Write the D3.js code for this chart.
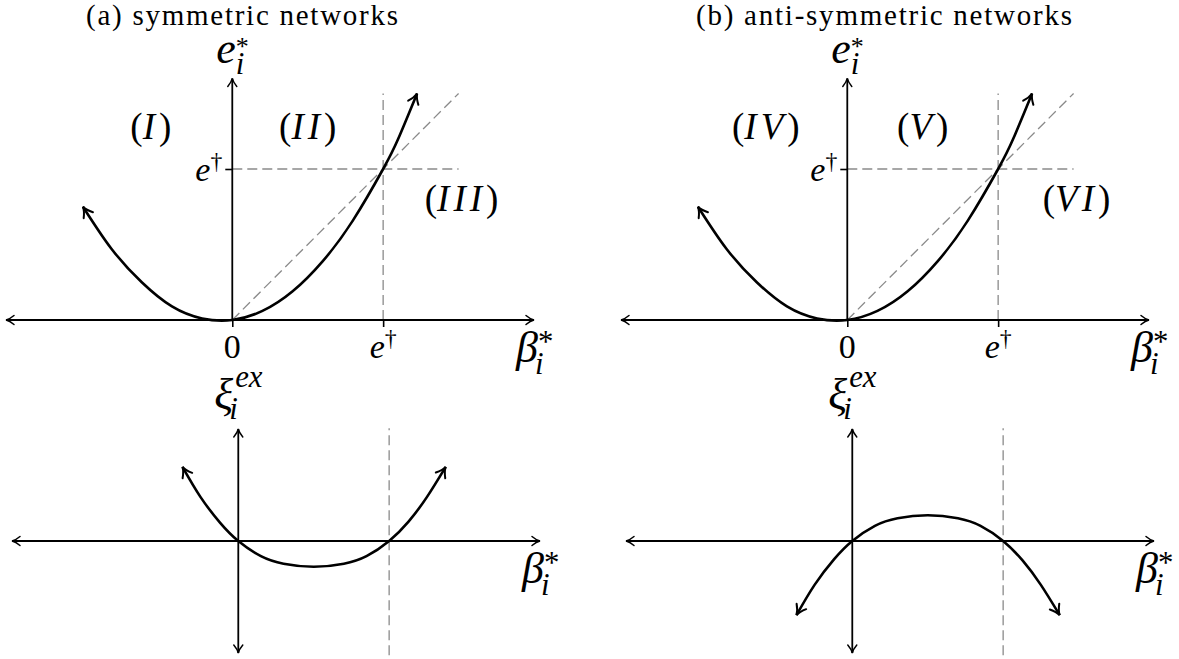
<!DOCTYPE html>
<html><head><meta charset="utf-8">
<script src="https://cdn.jsdelivr.net/npm/d3@7"></script>
<style>
html,body{margin:0;padding:0;background:#fff;}
svg{display:block;}
text{font-family:"Liberation Serif","Times New Roman",serif;fill:#000;}
</style></head><body>
<svg id="fig" width="1179" height="659"></svg>
<script>
// β*_i sample positions (in units of e†) and equilibrium effort e*_i
const betaEq   = [-0.99, -0.8, -0.6, -0.4, -0.2, 0, 0.2, 0.4, 0.6, 0.8, 1.0, 1.1, 1.225];
const effortEq = [0.75, 0.47, 0.25, 0.09, 0.01, 0, 0.06, 0.19, 0.39, 0.66, 1.0, 1.2, 1.5];
// excess term ξ^ex_i for both network types
const betaEx          = [-0.37, -0.25, -0.12, 0, 0.15, 0.3, 0.5, 0.7, 0.85, 1.0, 1.13, 1.25, 1.375];
const xiSymmetric     = [0.49, 0.29, 0.12, 0, -0.1, -0.15, -0.17, -0.15, -0.1, 0, 0.13, 0.29, 0.49];
const xiAntiSymmetric = [-0.49, -0.29, -0.12, 0, 0.1, 0.15, 0.17, 0.15, 0.1, 0, -0.13, -0.29, -0.49];
// threshold e† and reach of the dashed guides
const eDagger = 1;
const guideEnd = 1.5;
// axis extents
const betaRange   = [-1.5, 2.0];
const effortRange = [0, 1.6];
const xiRange     = [-0.74, 0.74];
// texts
const panelTitles = ["(a) symmetric networks", "(b) anti-symmetric networks"];
const regionNames = [["I", "II", "III"], ["IV", "V", "VI"]];
const xTickValues = [0, eDagger];

// ---------- layout ----------
const panels = [
  { title: panelTitles[0], titleX: 86,  titleW: 312, topX: [6, 534],   botX: [12, 540],  xi: xiSymmetric,     regions: regionNames[0] },
  { title: panelTitles[1], titleX: 696, titleW: 376, topX: [621, 1149], botX: [626, 1154], xi: xiAntiSymmetric, regions: regionNames[1] }
];
const topYPx = [320, 78.4];
const botYPx = [653, 429];
const regionSpots = [[-0.54, 1.2], [0.5, 1.2], [1.52, 0.72]];
const xiDashSpan = [-0.755, 0.745];

const svg = d3.select("#fig");
const defs = svg.append("defs");
function addArrow(id, len, half, w) {
  defs.append("marker")
    .attr("id", id).attr("markerUnits", "userSpaceOnUse")
    .attr("viewBox", `${-len - 3} ${-half - 3} ${len + 6} ${2 * half + 6}`)
    .attr("markerWidth", len + 6).attr("markerHeight", 2 * half + 6)
    .attr("refX", 0).attr("refY", 0).attr("orient", "auto-start-reverse")
    .append("path")
    .attr("d", `M${-len},${-half} C${-len * 0.6},${-half * 0.4} ${-len * 0.3},${-half * 0.12} 0,0 C${-len * 0.3},${half * 0.12} ${-len * 0.6},${half * 0.4} ${-len},${half}`)
    .attr("fill", "none").attr("stroke", "#000").attr("stroke-width", w).attr("stroke-linecap", "round");
}
addArrow("arrAxis", 8, 4.5, 1.5);
addArrow("arrCurve", 10, 5.5, 2);

// width of a string at a given size/style
function measure(str, size, italic) {
  const t = svg.append("text").style("font-size", size + "px").style("font-style", italic ? "italic" : "normal").text(str);
  const w = t.node().getComputedTextLength();
  t.remove();
  return w;
}

// math label: italic base with stacked super/subscripts, built as one text element
function mathLabel(g, o) {
  const size = o.size, s = size * 0.7, ss = o.supSize || s;
  const supDx = o.supDx || 0, subDx = o.subDx || 0;
  const wb = measure(o.base, size, o.baseItalic !== false);
  const wsup = o.sup ? measure(o.sup, ss, !!o.supItalic) : 0;
  const wsub = o.sub ? measure(o.sub, s, true) : 0;
  const total = wb + Math.max(o.sup ? supDx + wsup : 0, o.sub ? subDx + wsub : 0);
  const ox = o.anchor === "middle" ? o.x - total / 2 : o.anchor === "end" ? o.x - total : o.x;
  const raise = size * o.supRaise, drop = size * (o.subDrop || 0.28);
  const t = g.append("text").attr("x", ox).attr("y", o.y).style("font-size", size + "px");
  t.append("tspan").style("font-style", o.baseItalic === false ? "normal" : "italic").text(o.base);
  if (o.sup) {
    t.append("tspan").attr("dx", supDx).attr("dy", -raise)
      .style("font-size", ss + "px").style("font-style", o.supItalic ? "italic" : "normal").text(o.sup);
  }
  if (o.sub) {
    const back = o.sup ? -(supDx + wsup) : 0;
    t.append("tspan").attr("dx", back + subDx).attr("dy", (o.sup ? raise : 0) + drop)
      .style("font-size", s + "px").style("font-style", "italic").text(o.sub);
  }
}

const dashStyle = sel => sel.attr("stroke", "#8a8a8a").attr("stroke-width", 1.3).attr("stroke-dasharray", "10,5").attr("fill", "none");

panels.forEach(p => {
  // title
  svg.append("text").attr("x", p.titleX).attr("y", 25)
    .attr("textLength", p.titleW).attr("lengthAdjust", "spacing")
    .style("font-size", "29px").text(p.title);

  // ---------- upper panel: e*_i versus β*_i ----------
  const x = d3.scaleLinear().domain(betaRange).range(p.topX);
  const y = d3.scaleLinear().domain(effortRange).range(topYPx);
  const g = svg.append("g");

  // dashed guides
  g.append("line").attr("x1", x(eDagger)).attr("x2", x(eDagger)).attr("y1", y(0)).attr("y2", y(guideEnd)).call(dashStyle);
  g.append("line").attr("x1", x(0)).attr("x2", x(guideEnd)).attr("y1", y(eDagger)).attr("y2", y(eDagger)).call(dashStyle);
  g.append("line").attr("x1", x(0)).attr("x2", x(guideEnd)).attr("y1", y(0)).attr("y2", y(guideEnd)).call(dashStyle);

  // ticks at 0 and e†
  const xa = g.append("g").attr("transform", `translate(0,${y(0)})`)
    .call(d3.axisBottom(x).tickValues(xTickValues).tickSize(7).tickFormat(() => ""));
  xa.select(".domain").remove();
  xa.selectAll(".tick text").remove();
  xa.selectAll(".tick line").attr("stroke", "#000").attr("stroke-width", 1.6);
  const ya = g.append("g").attr("transform", `translate(${x(0)},0)`)
    .call(d3.axisLeft(y).tickValues([eDagger]).tickSize(7).tickFormat(() => ""));
  ya.select(".domain").remove();
  ya.selectAll(".tick text").remove();
  ya.selectAll(".tick line").attr("stroke", "#000").attr("stroke-width", 1.6);

  // axes with arrowheads
  g.append("line").attr("x1", p.topX[0]).attr("x2", p.topX[1]).attr("y1", y(0)).attr("y2", y(0))
    .attr("stroke", "#000").attr("stroke-width", 1.8)
    .attr("marker-start", "url(#arrAxis)").attr("marker-end", "url(#arrAxis)");
  g.append("line").attr("x1", x(0)).attr("x2", x(0)).attr("y1", y(0)).attr("y2", y(effortRange[1]))
    .attr("stroke", "#000").attr("stroke-width", 1.8).attr("marker-end", "url(#arrAxis)");

  // e*_i curve
  const line = d3.line().x(d => x(d[0])).y(d => y(d[1])).curve(d3.curveNatural);
  g.append("path").datum(d3.zip(betaEq, effortEq)).attr("d", line)
    .attr("fill", "none").attr("stroke", "#000").attr("stroke-width", 2.6)
    .attr("marker-start", "url(#arrCurve)").attr("marker-end", "url(#arrCurve)");

  // tick labels
  g.append("text").attr("x", x(0)).attr("y", y(0) + 38).attr("text-anchor", "middle")
    .style("font-size", "34px").text("0");
  mathLabel(g, { x: x(eDagger), y: y(0) + 38, base: "e", sup: "†", supRaise: 0.34, size: 34, anchor: "middle" });
  mathLabel(g, { x: x(0) - 10, y: y(eDagger) + 12, base: "e", sup: "†", supRaise: 0.34, size: 34, anchor: "end" });

  // axis titles
  mathLabel(g, { x: x(0) - 16, y: y(effortRange[1]) - 15, base: "e", sup: "*", supSize: 26, supRaise: 0.2, sub: "i", subDrop: 0.25, size: 44 });
  mathLabel(g, { x: x(betaRange[1]) - 18, y: y(0) + 42, base: "β", sup: "*", supRaise: 0.22, sub: "i", subDx: -3, size: 44 });

  // region names
  p.regions.forEach((r, k) => {
    const t = g.append("text").attr("x", x(regionSpots[k][0])).attr("y", y(regionSpots[k][1]))
      .attr("text-anchor", "middle").style("font-size", "37px");
    t.append("tspan").text("(");
    t.append("tspan").style("font-style", "italic").style("letter-spacing", "4px").text(r);
    t.append("tspan").text(")");
  });

  // ---------- lower panel: ξ^ex_i versus β*_i ----------
  const xb = d3.scaleLinear().domain(betaRange).range(p.botX);
  const yb = d3.scaleLinear().domain(xiRange).range(botYPx);
  const gb = svg.append("g");
  gb.append("line").attr("x1", xb(eDagger)).attr("x2", xb(eDagger)).attr("y1", yb(xiDashSpan[0])).attr("y2", yb(xiDashSpan[1])).call(dashStyle);
  gb.append("line").attr("x1", p.botX[0]).attr("x2", p.botX[1]).attr("y1", yb(0)).attr("y2", yb(0))
    .attr("stroke", "#000").attr("stroke-width", 1.8)
    .attr("marker-start", "url(#arrAxis)").attr("marker-end", "url(#arrAxis)");
  gb.append("line").attr("x1", xb(0)).attr("x2", xb(0)).attr("y1", yb(xiRange[0])).attr("y2", yb(xiRange[1]))
    .attr("stroke", "#000").attr("stroke-width", 1.8)
    .attr("marker-start", "url(#arrAxis)").attr("marker-end", "url(#arrAxis)");
  const lineB = d3.line().x(d => xb(d[0])).y(d => yb(d[1])).curve(d3.curveNatural);
  gb.append("path").datum(d3.zip(betaEx, p.xi)).attr("d", lineB)
    .attr("fill", "none").attr("stroke", "#000").attr("stroke-width", 2.6)
    .attr("marker-start", "url(#arrCurve)").attr("marker-end", "url(#arrCurve)");
  mathLabel(gb, { x: xb(0) - 24, y: yb(xiRange[1]) - 20, base: "ξ", sup: "ex", supItalic: true, supRaise: 0.5, supDx: 2, sub: "i", subDx: -4, subDrop: 0.22, size: 44 });
  mathLabel(gb, { x: xb(betaRange[1]) - 18, y: yb(0) + 42, base: "β", sup: "*", supRaise: 0.22, sub: "i", subDx: -3, size: 44 });
});
</script>
</body></html>
